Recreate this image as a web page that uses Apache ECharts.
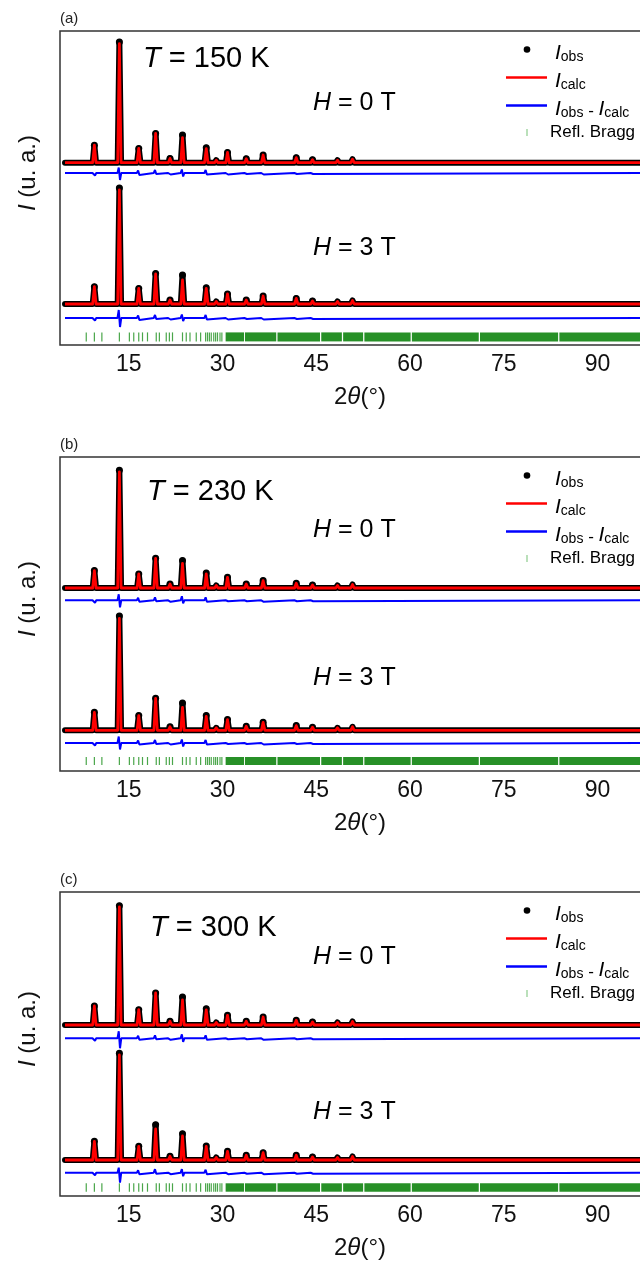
<!DOCTYPE html>
<html>
<head>
<meta charset="utf-8">
<script src="https://cdn.jsdelivr.net/npm/echarts@6/dist/echarts.min.js"></script>
<style>
html,body{margin:0;padding:0;background:#fff}
#chart{width:640px;height:1265px}
</style>
</head>
<body>
<div id="chart"></div>
<script>
// ---------------- data ----------------
const panelLabels = ['(a)', '(b)', '(c)'];
const temperatures = ['150', '230', '300'];
const fields = ['0', '3'];
const xTickLabels = [15, 30, 45, 60, 75, 90];
const xRange = [4, 100];
const scanRange = [4.8, 99];

// main reflections (2theta, degrees)
const peakPos = [9.5, 13.5, 16.6, 19.3, 21.6, 23.6, 27.4, 30.8, 33.8, 36.5, 41.8, 44.4];
// observed / calculated heights (arbitrary units) for each pattern
const obsA0  = [17.5, 120.7, 14.3, 29.3, 4.3, 27.7, 15.0, 10.3, 4.0, 7.7, 5.0, 3.0];
const calcA0 = [17.5, 119.0, 14.3, 29.3, 4.3, 25.0, 14.0, 10.3, 4.0, 7.7, 5.0, 3.0];
const obsA3  = [17.3, 116.0, 15.6, 30.6, 4.0, 29.0, 16.3, 10.0, 4.0, 8.0, 5.6, 3.0];
const calcA3 = [17.3, 114.0, 15.6, 30.0, 4.0, 24.0, 15.5, 10.0, 4.0, 8.0, 5.6, 3.0];
const obsB0  = [17.4, 117.7, 14.0, 29.7, 4.0, 27.4, 15.0, 10.7, 4.0, 7.4, 4.7, 3.0];
const calcB0 = [17.4, 116.0, 14.0, 29.7, 4.0, 24.5, 14.0, 10.7, 4.0, 7.4, 4.7, 3.0];
const obsB3  = [18.0, 114.3, 14.7, 32.0, 3.5, 27.3, 14.7, 10.7, 4.0, 8.0, 4.7, 3.0];
const calcB3 = [18.0, 112.0, 14.7, 32.0, 3.5, 23.0, 14.0, 10.7, 4.0, 8.0, 4.7, 3.0];
const obsC0  = [19.0, 119.3, 15.3, 32.0, 3.7, 28.0, 16.3, 9.7, 3.7, 8.0, 4.7, 3.0];
const calcC0 = [19.0, 118.0, 15.3, 32.0, 3.7, 25.0, 15.0, 9.7, 3.7, 8.0, 4.7, 3.0];
const obsC3  = [18.7, 106.7, 13.7, 35.3, 3.7, 26.3, 14.0, 8.7, 4.7, 7.3, 4.7, 3.0];
const calcC3 = [18.7, 105.0, 13.7, 31.0, 3.7, 24.0, 13.5, 8.7, 4.7, 7.3, 4.7, 3.0];

// weak reflections shared by every pattern
const minorPos = [10.7, 26.0, 29.0, 32.2, 35.0, 39.1, 46.6, 48.4, 50.8, 54.8, 58.6, 62.6, 66.0, 69.0, 73.0, 76.4, 83.1, 89.7, 92.9];
const minorH   = [2.0, 1.5, 2.5, 2.0, 2.0, 2.0, 2.0, 2.5, 3.5, 2.0, 1.5, 2.0, 1.5, 1.5, 1.5, 1.5, 1.5, 1.5, 1.5];

// difference Iobs - Icalc at the main reflections: [up, down]
const diffA0 = [[0.5,-2.5],[5.5,-7],[2.5,-2],[3,-1],[1,-1.5],[3.5,-3.5],[3,-1.5],[1,-1.5],[1,-1],[1,-1.5],[1,-1],[1,-1]];
const diffA3 = [[0.5,-2.5],[8,-9],[2.5,-2],[3,-1],[1,-1.5],[3.5,-3],[3,-1.5],[1,-1.5],[1,-1],[1,-1.5],[1,-1],[1,-1]];
const diffB0 = [[0.5,-2.5],[6,-7],[2.5,-1.5],[3,-1],[1,-1.5],[4,-3],[3,-1.5],[1,-1],[1,-1],[1,-1.5],[1,-1],[1,-1]];
const diffB3 = [[0.5,-2.5],[6.5,-6.5],[2.5,-1.5],[3,-1],[1,-1.5],[3.5,-3.5],[3,-1.5],[1,-1],[1,-1],[1,-1.5],[1,-1],[1,-1]];
const diffC0 = [[0.5,-2.5],[7,-10],[2.5,-1.5],[3,-1],[1,-1.5],[4,-3.5],[3,-1.5],[1,-1],[1,-1],[1,-1.5],[1,-1],[1,-1]];
const diffC3 = [[0.5,-2.5],[5,-10],[2.5,-1.5],[3.5,-1],[1,-1.5],[3.5,-3.5],[3,-1.5],[1,-1.5],[1,-1],[1,-1.5],[1,-1],[1,-1]];

// Bragg reflection positions (single ticks) and dense groups [from, to]
const braggTicks = [8.2, 9.5, 10.7, 13.5, 15.1, 15.8, 16.6, 17.2, 18.0, 19.4, 19.9, 21.0, 21.5, 22.0,
                    23.6, 24.2, 24.8, 25.8, 26.5, 27.3, 27.6, 27.9, 28.2, 28.6, 28.9, 29.2, 29.6, 29.9];
const braggBands = [[30.5, 33.45], [33.6, 38.6], [38.8, 45.6], [45.8, 49.1], [49.3, 52.5], [52.7, 60.1],
                    [60.3, 71.0], [71.2, 83.7], [83.9, 99.0]];

const legendTexts = ['{i|I}{s|obs}', '{i|I}{s|calc}', '{i|I}{s|obs}{n| - }{i|I}{s|calc}', '{n|Refl. Bragg}'];

const patterns = [
  [[obsA0, calcA0, diffA0], [obsA3, calcA3, diffA3]],
  [[obsB0, calcB0, diffB0], [obsB3, calcB3, diffB3]],
  [[obsC0, calcC0, diffC0], [obsC3, calcC3, diffC3]]
];

// ---------------- layout (pixels / offsets) ----------------
const FONT = '"Liberation Sans", Arial, sans-serif';
const layout = [
  {top: 31,  h: 314, base: [182.3, 41],  diff: [172, 27],    bragg: [3.6, 12.6], tX: 143, tY: 59,    hY: [103, 248]},
  {top: 457, h: 314, base: [183, 40.7],  diff: [170.7, 28],  bragg: [6, 14],     tX: 147, tY: 491.7, hY: [530, 678]},
  {top: 892, h: 304, base: [171, 36],    diff: [157.7, 23.3], bragg: [4.3, 12.7], tX: 150, tY: 927.5, hY: [957, 1112.5]}
];
const W = 0.27;

function profile(heights, offset) {
  const peaks = peakPos.map((p, i) => [p, heights[i], 1])
    .concat(minorPos.map((p, i) => [p, minorH[i], 0]))
    .sort((a, b) => a[0] - b[0]);
  const pts = [[scanRange[0], offset, 0]];
  peaks.forEach(([p, h, major]) => {
    pts.push([p - W, offset, 0], [p, offset + h, major], [p + W, offset, 0]);
  });
  pts.push([scanRange[1], offset, 0]);
  return pts;
}
function diffCurve(pairs, offset) {
  const pts = [[scanRange[0], offset]];
  peakPos.forEach((p, i) => {
    const [u, d] = pairs[i];
    pts.push([p - 0.3, offset], [p - 0.1, offset + u], [p + 0.1, offset + d], [p + 0.3, offset]);
  });
  pts.push([scanRange[1], offset]);
  return pts;
}

const grids = [], xAxes = [], yAxes = [], series = [], graphics = [];
const richLegend = {
  i: {fontStyle: 'italic', fontSize: 21, fontFamily: FONT, fill: '#000', verticalAlign: 'bottom'},
  s: {fontSize: 14, fontFamily: FONT, fill: '#000', verticalAlign: 'bottom'},
  n: {fontSize: 17, fontFamily: FONT, fill: '#000', verticalAlign: 'bottom'}
};

layout.forEach((L, k) => {
  grids.push({left: 60, top: L.top, width: 600, height: L.h, show: true,
    outerBoundsMode: 'none',
    borderColor: '#333', borderWidth: 1.5, backgroundColor: 'transparent'});
  xAxes.push({type: 'value', gridIndex: k, min: xRange[0], max: xRange[1],
    axisLine: {show: false}, axisTick: {show: false}, splitLine: {show: false},
    axisLabel: {customValues: xTickLabels, fontSize: 23, color: '#111', fontFamily: FONT, margin: 8},
    name: '{n|2}{t|θ}{n|(°)}', nameLocation: 'middle', nameGap: 40,
    nameTextStyle: {rich: {
      n: {fontSize: 24, fontFamily: FONT, color: '#111'},
      t: {fontSize: 24, fontFamily: FONT, color: '#111', fontStyle: 'italic'}}}
  });
  yAxes.push({type: 'value', gridIndex: k, min: 0, max: L.h,
    axisLine: {show: false}, axisTick: {show: false}, axisLabel: {show: false}, splitLine: {show: false},
    name: '{t|I}{n| (u. a.)}', nameLocation: 'middle', nameGap: 20, nameRotate: 90,
    nameTextStyle: {padding: [0, 0, 0, 30], rich: {
      n: {fontSize: 24, fontFamily: FONT, color: '#111'},
      t: {fontSize: 24, fontFamily: FONT, color: '#111', fontStyle: 'italic'}}}
  });

  patterns[k].forEach(([obs, calc, diff], f) => {
    series.push({
      name: 'Iobs', type: 'line', xAxisIndex: k, yAxisIndex: k, z: 2,
      data: profile(obs, L.base[f]), animation: false, silent: true,
      symbol: 'circle', showSymbol: true, showAllSymbol: true,
      symbolSize: v => (v[2] ? 7 : 0), itemStyle: {color: '#000'},
      lineStyle: {color: '#000', width: 6, join: 'round', cap: 'round'}
    });
    series.push({
      name: 'Icalc', type: 'line', xAxisIndex: k, yAxisIndex: k, z: 3,
      data: profile(calc, L.base[f]).map(p => [p[0], p[1]]), animation: false, silent: true,
      showSymbol: false, symbol: 'none',
      lineStyle: {color: '#ff0000', width: 2.8, join: 'round'}
    });
    series.push({
      name: 'Iobs - Icalc', type: 'line', xAxisIndex: k, yAxisIndex: k, z: 3,
      data: diffCurve(diff, L.diff[f]), animation: false, silent: true,
      showSymbol: false, symbol: 'none',
      lineStyle: {color: '#0000ff', width: 2}
    });
  });

  const braggData = braggTicks.map(x => [x, x]).concat(braggBands.map(b => [b[0], b[1]]));
  series.push({
    name: 'Refl. Bragg', type: 'custom', xAxisIndex: k, yAxisIndex: k, z: 2,
    animation: false, silent: true, clip: true,
    data: braggData, encode: {x: [0, 1]},
    renderItem: (params, api) => {
      const x0 = api.value(0), x1 = api.value(1);
      const p0 = api.coord([x0, L.bragg[1]]);
      const p1 = api.coord([x1, L.bragg[0]]);
      const single = x1 === x0;
      return {type: 'rect',
        shape: {x: p0[0] - (single ? 0.6 : 0), y: p0[1], width: single ? 1.2 : (p1[0] - p0[0]), height: p1[1] - p0[1]},
        style: {fill: single ? '#4aa64a' : '#279027'}};
    }
  });

  // panel label
  graphics.push({type: 'text', left: 60, top: L.top - 20,
    style: {text: panelLabels[k], font: '15px ' + FONT, fill: '#222'}});
  // temperature
  graphics.push({type: 'text', x: L.tX, y: L.tY,
    style: {text: '{it|T}{n| = ' + temperatures[k] + ' K}', verticalAlign: 'middle', fill: '#000',
      rich: {it: {fontStyle: 'italic', fontSize: 29, fontFamily: FONT, fill: '#000'},
             n: {fontSize: 29, fontFamily: FONT, fill: '#000'}}}});
  // fields
  fields.forEach((h, f) => {
    graphics.push({type: 'text', x: 313, y: L.hY[f],
      style: {text: '{it|H}{n| = ' + h + ' T}', verticalAlign: 'middle', fill: '#000',
        rich: {it: {fontStyle: 'italic', fontSize: 25, fontFamily: FONT, fill: '#000'},
               n: {fontSize: 25, fontFamily: FONT, fill: '#000'}}}});
  });
  // legend
  const rows = [L.top + 18.5, L.top + 46.5, L.top + 74.5, L.top + 101.5];
  graphics.push({type: 'circle', shape: {cx: 527, cy: rows[0], r: 3.3}, style: {fill: '#000'}});
  graphics.push({type: 'line', shape: {x1: 506, y1: rows[1], x2: 547, y2: rows[1]}, style: {stroke: '#ff0000', lineWidth: 2.5}});
  graphics.push({type: 'line', shape: {x1: 506, y1: rows[2], x2: 547, y2: rows[2]}, style: {stroke: '#0000ff', lineWidth: 2.5}});
  graphics.push({type: 'line', shape: {x1: 527, y1: rows[3] - 3.5, x2: 527, y2: rows[3] + 3.5}, style: {stroke: '#8ccc8c', lineWidth: 1.2}});
  legendTexts.forEach((t, r) => {
    graphics.push({type: 'text', x: r === 3 ? 550 : 555, y: rows[r] + (r === 3 ? 0 : 4),
      style: {text: t, verticalAlign: 'middle', fill: '#000', rich: richLegend}});
  });
});

const chart = echarts.init(document.getElementById('chart'), null, {renderer: 'canvas'});
chart.setOption({
  backgroundColor: '#fff',
  animation: false,
  grid: grids, xAxis: xAxes, yAxis: yAxes, series: series, graphic: graphics
});
</script>
</body>
</html>
